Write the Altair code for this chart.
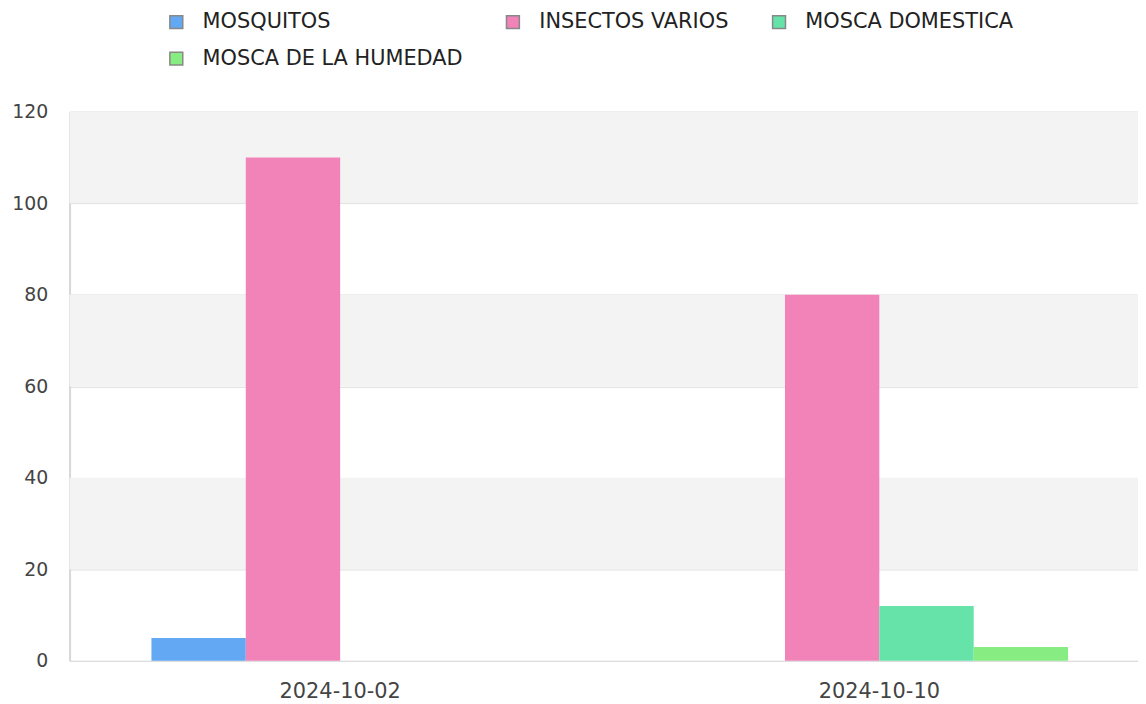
import altair as alt
import pandas as pd

dates = ["2024-10-02", "2024-10-10"]
series = ["MOSQUITOS", "INSECTOS VARIOS", "MOSCA DOMESTICA", "MOSCA DE LA HUMEDAD"]
mosquitos = [5, 0]
insectos_varios = [110, 80]
mosca_domestica = [0, 12]
mosca_humedad = [0, 3]
colors = ["#62a8f3", "#f283b9", "#65e3a9", "#87ed83"]

band_lo = [20, 60, 100]
band_hi = [40, 80, 120]

rows = []
for name, vals in zip(series, [mosquitos, insectos_varios, mosca_domestica, mosca_humedad]):
    for d, v in zip(dates, vals):
        rows.append({"fecha": d, "serie": name, "valor": v})
df = pd.DataFrame(rows)
bands = pd.DataFrame({"lo": band_lo, "hi": band_hi})

FONT = "DejaVu Sans"

bg = alt.Chart(bands).mark_rect(color="#f3f3f3").encode(
    y=alt.Y("lo:Q", scale=alt.Scale(domain=[0, 120])),
    y2="hi:Q",
)

bars = alt.Chart(df).mark_bar().encode(
    x=alt.X(
        "fecha:N",
        title=None,
        sort=dates,
        scale=alt.Scale(paddingInner=0.3, paddingOuter=0.15, range=[1, 1087]),
        axis=alt.Axis(labelAngle=0, ticks=False, domain=False, labelPadding=20,
                      labelFont=FONT, labelFontSize=21, labelColor="#444444"),
    ),
    xOffset=alt.XOffset("serie:N", sort=series, scale=alt.Scale(domain=series, paddingInner=0, paddingOuter=0)),
    y=alt.Y(
        "valor:Q",
        title=None,
        scale=alt.Scale(domain=[0, 120]),
        axis=alt.Axis(values=[0, 20, 40, 60, 80, 100, 120], ticks=False, domainColor="#d8d8d8",
                      domainWidth=2, gridColor="#dcdcdc", labelPadding=22,
                      labelFont=FONT, labelFontSize=19, labelColor="#444444"),
    ),
    color=alt.Color(
        "serie:N",
        sort=series,
        scale=alt.Scale(domain=series, range=colors),
        legend=alt.Legend(
            title=None, orient="none", legendX=97, legendY=-101, columns=3,
            direction="horizontal",
            symbolType="square", symbolSize=169, symbolStrokeColor="#888888",
            symbolStrokeWidth=1.5, symbolOpacity=1, labelOffset=16,
            columnPadding=40, rowPadding=15, padding=0,
            labelFont=FONT, labelFontSize=21, labelColor="#222222",
            labelLimit=400,
        ),
    ),
)

chart = alt.layer(bg, bars).properties(
    width=1076, height=553,
    autosize=alt.AutoSizeParams(type="none"),
    padding={"left": 62, "top": 102, "right": 0, "bottom": 40},
).configure_view(stroke=None).configure(background="white")

chart.save("out.html", embed_options={"renderer": "svg", "actions": False})
